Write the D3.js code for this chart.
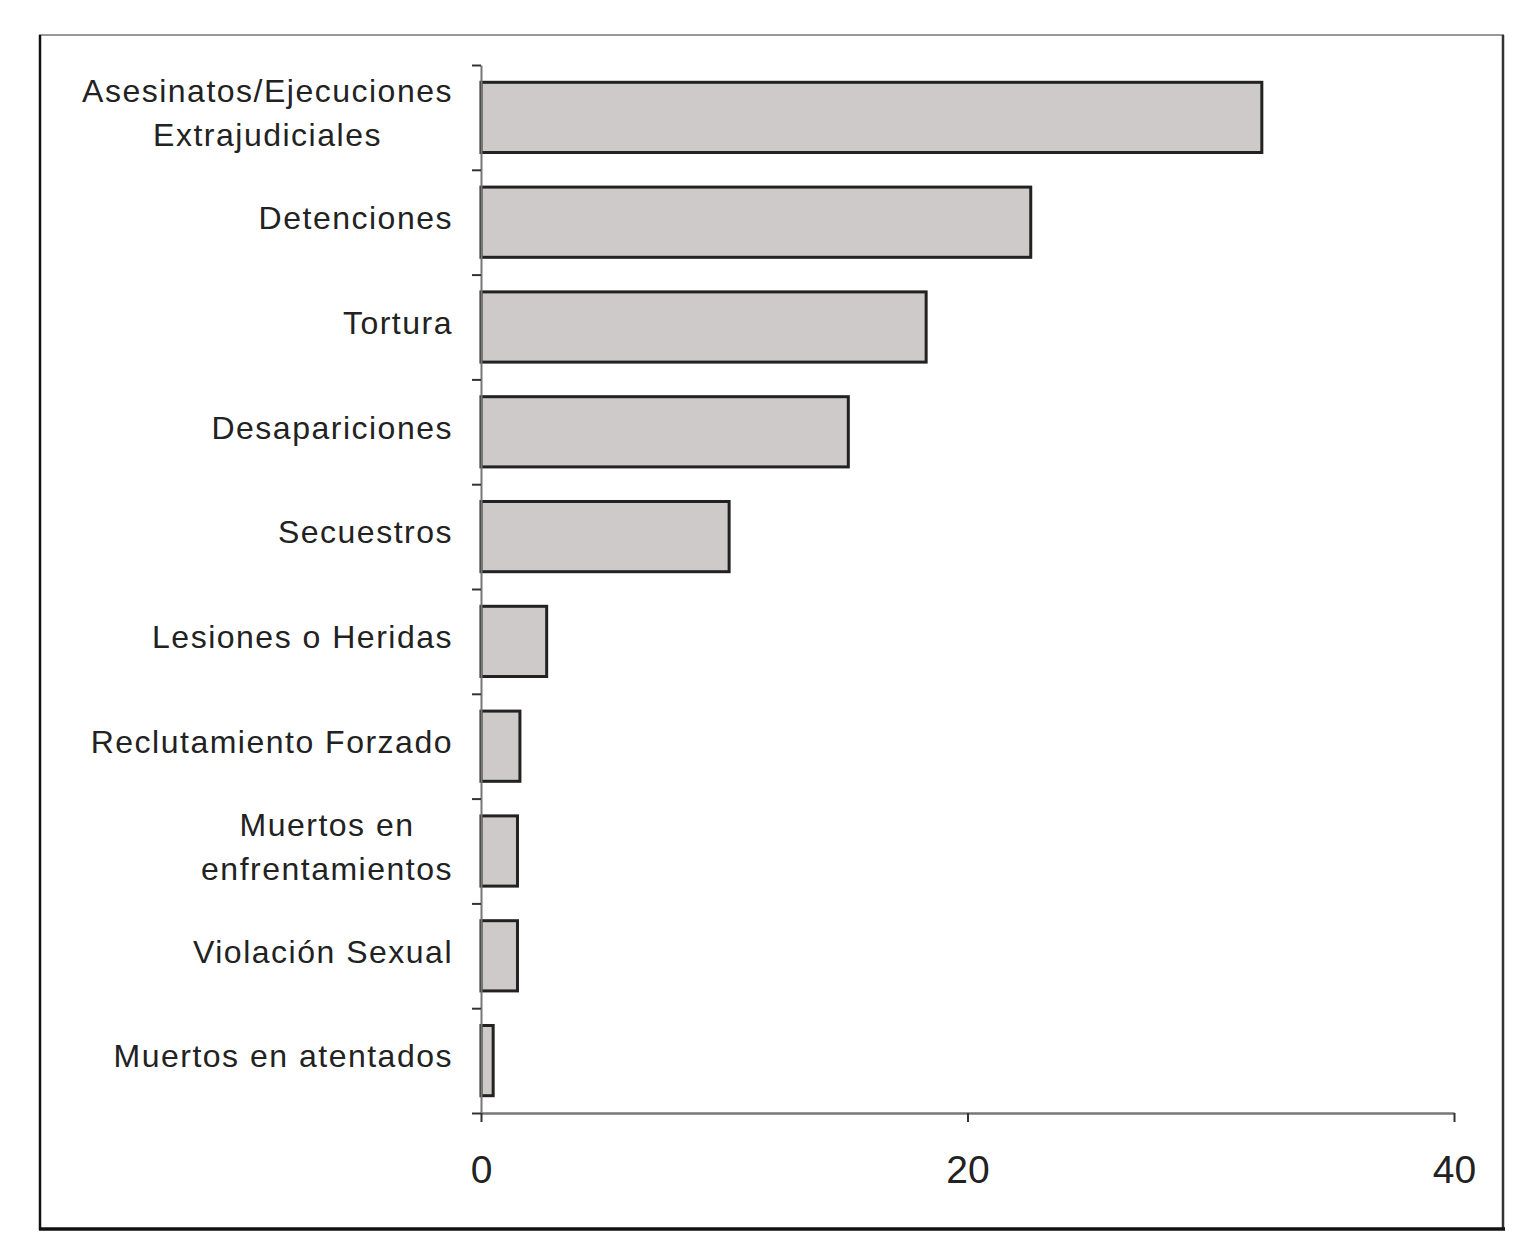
<!DOCTYPE html>
<html lang="es">
<head>
<meta charset="UTF-8">
<title>Violaciones</title>
<style>
  body { margin: 0; background: #fff; }
  text { font-family: "Liberation Sans", Arial, sans-serif; fill: #222; }
</style>
</head>
<body>
<div id="chart"></div>
<script src="https://cdn.jsdelivr.net/npm/d3@7"></script>
<script>
// data
var categories = [
  "Asesinatos/Ejecuciones\nExtrajudiciales",
  "Detenciones",
  "Tortura",
  "Desapariciones",
  "Secuestros",
  "Lesiones o Heridas",
  "Reclutamiento Forzado",
  "Muertos en\nenfrentamientos",
  "Violación Sexual",
  "Muertos en atentados"
];
var values = [32.1, 22.6, 18.3, 15.1, 10.2, 2.7, 1.6, 1.5, 1.5, 0.5];
var xTicks = [0, 20, 40];

var W = 1526, H = 1256;
var plot = { left: 481, right: 1454, top: 65, bottom: 1113 };

var svg = d3.select("#chart").append("svg")
  .attr("width", W)
  .attr("height", H);

// frame round the whole chart
svg.append("line").attr("x1", 39).attr("x2", 1504).attr("y1", 35).attr("y2", 35)
  .attr("stroke", "#777").attr("stroke-width", 1.5);
svg.append("line").attr("x1", 40).attr("x2", 40).attr("y1", 35).attr("y2", 1230)
  .attr("stroke", "#111").attr("stroke-width", 2.5);
svg.append("line").attr("x1", 1503).attr("x2", 1503).attr("y1", 35).attr("y2", 1230)
  .attr("stroke", "#333").attr("stroke-width", 2.5);
svg.append("line").attr("x1", 39).attr("x2", 1505).attr("y1", 1229).attr("y2", 1229)
  .attr("stroke", "#111").attr("stroke-width", 3.5);

var x = d3.scaleLinear().domain([0, 40]).range([plot.left, plot.right]);

var y = d3.scaleBand()
  .domain(categories)
  .range([plot.top, plot.bottom])
  .paddingInner(0.33)
  .paddingOuter(0.165);

// ticks of the category axis sit between the bars
var yEdge = d3.scaleLinear().domain([0, categories.length]).range([plot.top, plot.bottom]);

// bars
svg.append("g").selectAll("rect")
  .data(values)
  .join("rect")
  .attr("x", x(0))
  .attr("y", function (d, i) { return y(categories[i]); })
  .attr("width", function (d) { return x(d) - x(0); })
  .attr("height", y.bandwidth())
  .attr("fill", "#cdcac9")
  .attr("stroke", "#222")
  .attr("stroke-width", 3);

// y axis
var yAxis = svg.append("g")
  .attr("transform", "translate(" + plot.left + ",0)")
  .call(d3.axisLeft(yEdge).ticks(categories.length).tickFormat("").tickSize(9).tickSizeOuter(0));
yAxis.select(".domain").attr("stroke", "#777").attr("stroke-width", 2);
yAxis.selectAll(".tick line").attr("stroke", "#333").attr("stroke-width", 2);

// x axis
var xAxis = svg.append("g")
  .attr("transform", "translate(0," + plot.bottom + ")")
  .call(d3.axisBottom(x).tickValues(xTicks).tickSize(9).tickSizeOuter(0).tickPadding(33));
xAxis.select(".domain").attr("stroke", "#777").attr("stroke-width", 2.5);
xAxis.selectAll(".tick line").attr("stroke", "#333").attr("stroke-width", 2);
xAxis.selectAll(".tick text")
  .attr("font-size", 39)
  .attr("font-family", "Liberation Sans, Arial, sans-serif")
  .attr("fill", "#222");

// category labels, wrapped ones centred on their widest line
var labelRight = 453, lineGap = 44;
var labels = svg.append("g").attr("font-size", 32).attr("letter-spacing", 1.5);
categories.forEach(function (c) {
  var lines = c.split("\n");
  var cy = y(c) + y.bandwidth() / 2 - 4;
  var t = labels.append("text");
  lines.forEach(function (ln, k) {
    t.append("tspan")
      .attr("y", cy + (k - (lines.length - 1) / 2) * lineGap)
      .attr("dy", "0.34em")
      .text(ln);
  });
  if (lines.length === 1) {
    t.attr("text-anchor", "end").selectAll("tspan").attr("x", labelRight);
  } else {
    var maxW = 0;
    t.selectAll("tspan").each(function () {
      maxW = Math.max(maxW, this.getComputedTextLength());
    });
    t.attr("text-anchor", "middle").selectAll("tspan").attr("x", labelRight - maxW / 2);
  }
});
</script>
</body>
</html>
